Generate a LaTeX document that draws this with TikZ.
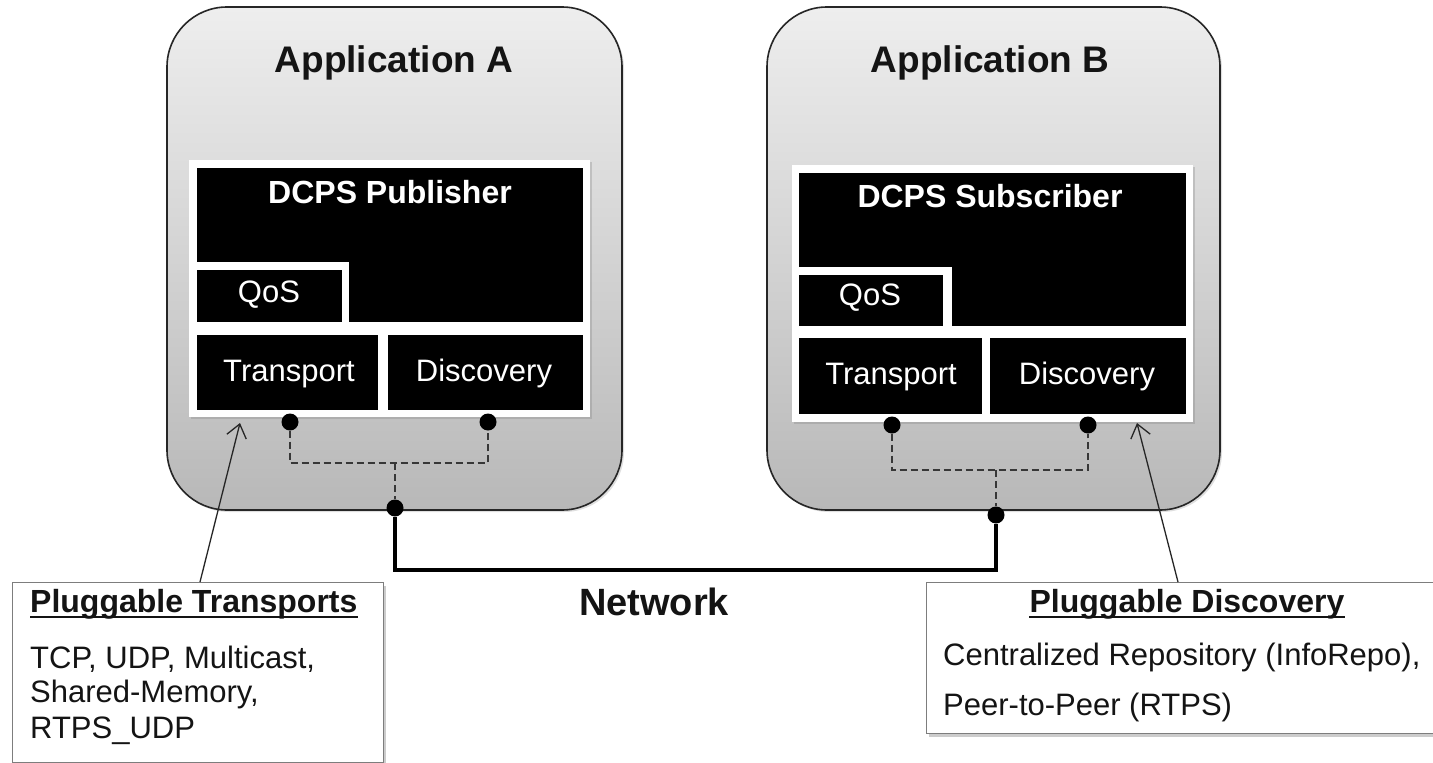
\documentclass[tikz,border=0pt]{standalone}
\usepackage{fontspec}
\setmainfont{Liberation Sans}
\usetikzlibrary{arrows.meta,shadows,fit}
\definecolor{appTop}{RGB}{238,238,238}
\definecolor{appBot}{RGB}{184,184,184}
\definecolor{dashgray}{RGB}{55,55,55}
\definecolor{callborder}{RGB}{125,125,125}
\definecolor{txtdark}{RGB}{20,20,20}
\begin{document}
\begin{tikzpicture}[x=1pt,y=-1pt,
  appbox/.style={draw=black!85, line width=1.6pt, rounded corners=60pt,
    top color=appTop, bottom color=appBot, inner sep=0pt,
    drop shadow={shadow xshift=2pt, shadow yshift=-2pt, opacity=0.25}},
  frame/.style={fill=white, draw=none, inner sep=0pt,
    drop shadow={shadow xshift=2pt, shadow yshift=-2pt, opacity=0.3}},
  blk/.style={fill=black, draw=none, inner sep=0pt},
  notch/.style={fill=white, draw=none, inner sep=0pt},
  ttl/.style={font=\fontsize{37}{44}\selectfont\bfseries, text=txtdark, inner sep=0pt, anchor=base},
  hdr/.style={font=\fontsize{32}{38}\selectfont\bfseries, text=white, inner sep=0pt, anchor=base},
  lbl/.style={font=\fontsize{31}{37}\selectfont, text=white, inner sep=0pt, anchor=base},
  dot/.style={circle, fill=black, inner sep=0pt, minimum size=17pt},
  dashline/.style={draw=dashgray, line width=1.6pt, dash pattern=on 7pt off 4pt},
  netline/.style={draw=black, line width=4.5pt, line join=miter},
  callout/.style={fill=white, draw=callborder, line width=1pt, inner sep=0pt,
    drop shadow={shadow xshift=3pt, shadow yshift=-4pt, opacity=0.4}},
  calltitle/.style={font=\fontsize{32}{38}\selectfont\bfseries, text=txtdark, inner sep=0pt},
  uline/.style={draw=txtdark, line width=1.6pt},
  body/.style={font=\fontsize{31}{37}\selectfont, text=txtdark, inner sep=0pt, anchor=base west},
  pointer/.style={draw=black!85, line width=1.3pt, -{Straight Barb[length=13pt, width=20pt, line width=1.3pt]}}
]
\useasboundingbox (0,0) rectangle (1433,763);
\fill[white] (0,0) rectangle (1433,763);

% ---------- Application A ----------
\node[appbox, fit={(167,7) (622,510)}] (appA) {};
\node[ttl] (ttlA) at (394,72) {Application A};
\node[frame, fit={(189,160) (590,417)}] (frmA) {};
\node[blk, fit={(197,168) (583,322)}] (pubA) {};
\node[notch, fit={(197,262) (349,335)}] (notA) {};
\node[blk, fit={(197,270) (342,322)}] (qosA) {};
\node[blk, fit={(197,335) (378,410)}] (trA) {};
\node[blk, fit={(388,335) (583,410)}] (diA) {};
\node[hdr] (pubAt) at (390,203) {DCPS Publisher};
\node[lbl] (qosAt) at (269,302) {QoS};
\node[lbl] (trAt) at (289,381) {Transport};
\node[lbl] (diAt) at (484,381) {Discovery};

% ---------- Application B ----------
\node[appbox, fit={(767,7) (1220,510)}] (appB) {};
\node[ttl] (ttlB) at (990,72) {Application B};
\node[frame, fit={(792,165) (1193,422)}] (frmB) {};
\node[blk, fit={(799,173) (1186,326)}] (subB) {};
\node[notch, fit={(799,267) (952,338)}] (notB) {};
\node[blk, fit={(799,275) (943,326)}] (qosB) {};
\node[blk, fit={(799,338) (982,414)}] (trB) {};
\node[blk, fit={(990,338) (1186,414)}] (diB) {};
\node[hdr] (subBt) at (990,207) {DCPS Subscriber};
\node[lbl] (qosBt) at (870,305) {QoS};
\node[lbl] (trBt) at (891,384) {Transport};
\node[lbl] (diBt) at (1087,384) {Discovery};

% ---------- connection points ----------
\node[dot] (dTA) at (290,422) {};
\node[dot] (dDA) at (488,422) {};
\node[dot] (nA) at (395,508) {};
\coordinate (jA) at (395,463);
\node[dot] (dTB) at (892,425) {};
\node[dot] (dDB) at (1088,425) {};
\node[dot] (nB) at (996,515) {};
\coordinate (jB) at (996,470);
\coordinate (netY) at (0,570);

\draw[dashline] (dTA) -- (dTA |- jA) -- (dDA |- jA) -- (dDA);
\draw[dashline] (jA) -- (nA);
\draw[dashline] (dTB) -- (dTB |- jB) -- (dDB |- jB) -- (dDB);
\draw[dashline] (jB) -- (nB);

\draw[netline] (nA) -- (nA |- netY) -- (nB |- netY) -- (nB);
\node[ttl, font=\fontsize{38}{44}\selectfont\bfseries] (net) at (654,615) {Network};

% ---------- callouts ----------
\node[callout, fit={(12,582) (383,762)}] (callL) {};
\node[calltitle, anchor=base west] (callLt) at (30,612) {Pluggable Transports};
\draw[uline] ([yshift=-5pt]callLt.base west) -- ([yshift=-5pt]callLt.base east);
\node[body] (callL1) at (30,668) {TCP, UDP, Multicast,};
\node[body] (callL2) at (30,702) {Shared-Memory,};
\node[body] (callL3) at (30,738) {RTPS\_UDP};

\node[callout, fit={(926,582) (1445,733)}] (callR) {};
\node[calltitle, anchor=base] (callRt) at (1187,612) {Pluggable Discovery};
\draw[uline] ([yshift=-5pt]callRt.base west) -- ([yshift=-5pt]callRt.base east);
\node[body] (callR1) at (943,665) {Centralized Repository (InfoRepo),};
\node[body] (callR2) at (943,715) {Peer-to-Peer (RTPS)};

\coordinate (tailA) at (200,582);
\coordinate (tipA) at (240,423);
\coordinate (tailB) at (1178,582);
\coordinate (tipB) at (1137,423);
\draw[pointer] (tailA) -- (tipA);
\draw[pointer] (tailB) -- (tipB);
\end{tikzpicture}
\end{document}
